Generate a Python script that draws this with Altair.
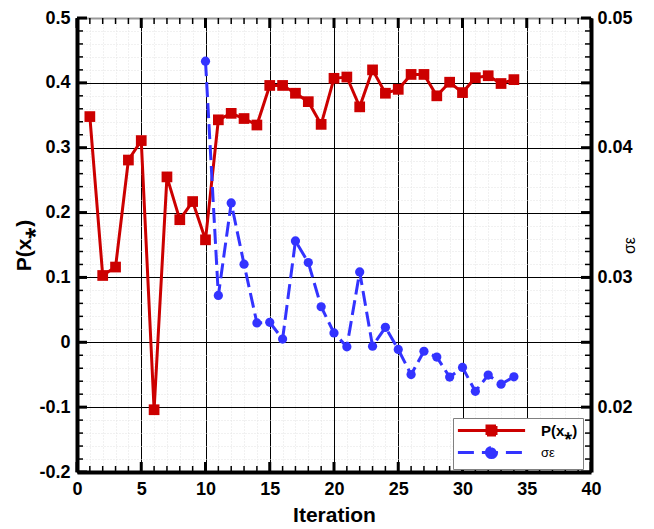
import altair as alt
import pandas as pd

# ---- data ----
p_iter = list(range(1, 35))
p_vals = [0.348, 0.103, 0.116, 0.281, 0.311, -0.104, 0.255, 0.189, 0.217, 0.158,
          0.343, 0.353, 0.345, 0.335, 0.396, 0.396, 0.384, 0.371, 0.336, 0.407,
          0.409, 0.363, 0.420, 0.384, 0.390, 0.413, 0.413, 0.380, 0.401, 0.385,
          0.408, 0.411, 0.399, 0.405]
s_iter = list(range(10, 35))
s_vals = [0.04667, 0.02861, 0.03574, 0.03102, 0.02649, 0.02654, 0.02525, 0.03281,
          0.03115, 0.02774, 0.02572, 0.02465, 0.03042, 0.02470, 0.02615, 0.02445,
          0.02251, 0.02431, 0.02386, 0.02232, 0.02306, 0.02122, 0.02247, 0.02177,
          0.02234]

x_major = [0, 5, 10, 15, 20, 25, 30, 35, 40]
x_minor = list(range(0, 41))
y_major = [-0.2, -0.1, 0.0, 0.1, 0.2, 0.3, 0.4, 0.5]
y_minor = [round(-0.2 + 0.02 * i, 2) for i in range(36)]
r_labels = [0.02, 0.03, 0.04, 0.05]

RED = "#cc0000"
BLUE = "#3333ff"
FONT = "Liberation Sans"
W, H = 514, 454

dp = pd.DataFrame({"it": p_iter, "v": p_vals})
ds = pd.DataFrame({"it": s_iter, "v": s_vals})
dl = pd.concat([dp.assign(series="P"), ds.assign(series="S", v=0.1)])
dxM = pd.DataFrame({"tx": x_major})
dxm = pd.DataFrame({"tx": x_minor})
dyM = pd.DataFrame({"ty": y_major})
dym = pd.DataFrame({"ty": y_minor})

xs = alt.Scale(domain=[0, 40], nice=False, zero=False)


def ysL():
    return alt.Scale(domain=[-0.2, 0.5], nice=False, zero=False)


def ysR():
    return alt.Scale(domain=[0.015, 0.05], nice=False, zero=False)


def blank(**kw):
    base = dict(labels=False, ticks=False, domain=False, grid=False, title=None)
    base.update(kw)
    return alt.Axis(**base)


def axis_layer(xaxis, yaxis):
    return alt.Chart(dp).mark_point(opacity=0).encode(
        x=alt.X("it:Q", scale=xs, axis=xaxis),
        y=alt.Y("v:Q", scale=ysL(), axis=yaxis),
    )


# minor dotted grid (+ top border)
g_minor = axis_layer(
    blank(orient="top", values=x_minor, grid=True, gridColor="#e2e2e2",
          gridDash=[1, 2], gridWidth=1, domain=True, domainColor="#999999",
          domainWidth=2),
    blank(orient="left", values=y_minor, grid=True, gridColor="#e2e2e2",
          gridDash=[1, 2], gridWidth=1),
)
# major grid
g_major = axis_layer(
    blank(orient="bottom", values=x_major, grid=True, gridColor="black", gridWidth=1),
    blank(orient="left", values=y_major, grid=True, gridColor="black", gridWidth=1),
)


# inward ticks: tick marks placed through the scales at the frame edges
def xticks(df, edge, size, thick, off):
    return alt.Chart(df).mark_tick(orient="vertical", size=size, thickness=thick,
                                   color="black", opacity=1, yOffset=off).encode(
        x=alt.X("tx:Q", scale=xs, axis=None),
        y=alt.YDatum(edge, type="quantitative", scale=ysL(), axis=None),
    )


def yticks(df, edge, size, thick, off):
    return alt.Chart(df).mark_tick(orient="horizontal", size=size, thickness=thick,
                                   color="black", opacity=1, xOffset=off).encode(
        y=alt.Y("ty:Q", scale=ysL(), axis=None),
        x=alt.XDatum(edge, type="quantitative", scale=xs, axis=None),
    )


ticks = [
    xticks(dxm, -0.2, 6, 1.5, -3), xticks(dxm, 0.5, 6, 1.5, 3),
    xticks(dxM, -0.2, 10, 3, -5), xticks(dxM, 0.5, 10, 3, 5),
    yticks(dym, 0, 6, 1.5, 3), yticks(dym, 40, 6, 1.5, -3),
    yticks(dyM, 0, 10, 3, 5), yticks(dyM, 40, 10, 3, -5),
]

# red series with bottom/left labelled axes
x_lab = alt.Axis(orient="bottom", values=x_major, ticks=False, grid=False,
                 domain=True, domainColor="black", domainWidth=4,
                 labelFont=FONT, labelFontWeight="bold", labelFontSize=18,
                 labelColor="black", labelPadding=8, labelFlush=False,
                 title="Iteration", titleFont=FONT, titleFontWeight="bold",
                 titleFontSize=21, titleColor="black", titlePadding=6)
y_lab = alt.Axis(orient="left", values=y_major, ticks=False, grid=False,
                 domain=True, domainColor="black", domainWidth=4,
                 labelFont=FONT, labelFontWeight="bold", labelFontSize=18,
                 labelColor="black", labelPadding=7, labelFlush=False,
                 labelExpr="toString(round(datum.value*10)/10)",
                 title="P(x⁎)", titleFont=FONT, titleFontWeight="bold",
                 titleFontSize=21, titleColor="black", titlePadding=4)

red_line = alt.Chart(dp).mark_line(color=RED, strokeWidth=3).encode(
    x=alt.X("it:Q", scale=xs, axis=x_lab),
    y=alt.Y("v:Q", scale=ysL(), axis=y_lab),
)
red_pts = alt.Chart(dp).mark_point(shape="square", filled=True, size=115,
                                   color=RED, opacity=1).encode(
    x=alt.X("it:Q", scale=xs, axis=None),
    y=alt.Y("v:Q", scale=ysL(), axis=None),
)

r_lab = alt.Axis(orient="right", values=r_labels, ticks=False, grid=False,
                 domain=True, domainColor="black", domainWidth=4,
                 labelFont=FONT, labelFontWeight="bold", labelFontSize=18,
                 labelColor="black", labelPadding=6, labelFlush=False,
                 labelExpr="toString(round(datum.value*100)/100)",
                 title="σε", titleFont=FONT, titleFontWeight="normal",
                 titleFontSize=16, titleColor="black", titleAngle=270,
                 titlePadding=5)

blue_line = alt.Chart(ds).mark_line(color=BLUE, strokeWidth=3,
                                    strokeDash=[15, 6]).encode(
    x=alt.X("it:Q", scale=xs, axis=None),
    y=alt.Y("v:Q", scale=ysR(), axis=r_lab),
)
blue_pts = alt.Chart(ds).mark_point(shape="circle", filled=True, size=85,
                                    color=BLUE, opacity=1).encode(
    x=alt.X("it:Q", scale=xs, axis=None),
    y=alt.Y("v:Q", scale=ysR(), axis=None),
)

# legend layer (invisible marks, visible legend)
SQ = "M-5.6,0H5.6M-0.75,-0.75H0.75V0.75H-0.75Z"
CI = "M-5.6,0H5.6M-0.85,0A0.85,0.85 0 1,0 0.85,0A0.85,0.85 0 1,0 -0.85,0Z"
leg = alt.Legend(orient="none", legendX=376, legendY=400, direction="vertical",
                 title=None, fillColor="white", strokeColor="#808080",
                 padding=5, rowPadding=0,
                 symbolSize=144, symbolStrokeWidth=3, symbolOpacity=1,
                 symbolOffset=26, labelOffset=42,
                 labelFont=FONT, labelColor="black",
                 labelExpr="datum.value == 'P' ? 'P(x⁎)' : 'σε'",
                 labelFontWeight=alt.ExprRef("datum.value == 'P' ? 'bold' : 'normal'"),
                 labelFontSize=alt.ExprRef("datum.value == 'P' ? 15 : 13"))
dom = ["P", "S"]
legend_layer = alt.Chart(dl).mark_point(opacity=0, filled=True).encode(
    x=alt.X("it:Q", scale=xs, axis=None),
    y=alt.Y("v:Q", scale=ysL(), axis=None),
    fill=alt.Fill("series:N", scale=alt.Scale(domain=dom, range=[RED, BLUE]), legend=leg),
    stroke=alt.Stroke("series:N", scale=alt.Scale(domain=dom, range=[RED, BLUE]), legend=leg),
    shape=alt.Shape("series:N", scale=alt.Scale(domain=dom, range=[SQ, CI]), legend=leg),
    strokeDash=alt.StrokeDash("series:N", scale=alt.Scale(domain=dom, range=[[1, 0], [16, 8]]), legend=leg),
)

chart = alt.layer(
    g_minor, g_major, *ticks,
    red_line, red_pts, blue_line, blue_pts, legend_layer,
).resolve_scale(y="independent").resolve_axis(
    x="independent", y="independent"
).properties(
    width=W, height=H,
    autosize=alt.AutoSizeParams(type="none"),
    padding={"left": 69, "top": 10, "right": 55, "bottom": 57},
).configure_view(stroke=None)

chart.save("out.html", embed_options={"renderer": "svg", "actions": False})
